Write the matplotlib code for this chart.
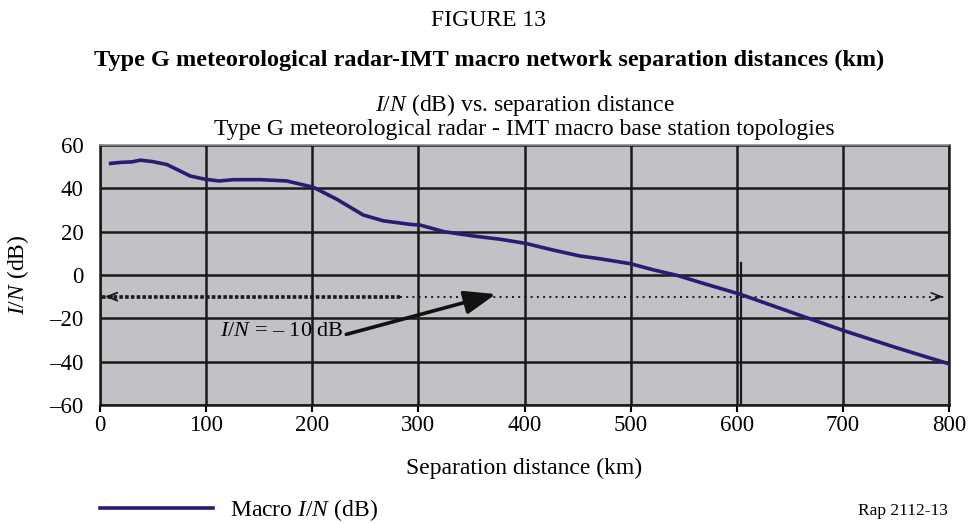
import matplotlib
matplotlib.use('Agg')
import matplotlib.pyplot as plt

plt.rcParams['font.family'] = ['Liberation Serif', 'DejaVu Serif']
plt.rcParams['mathtext.fontset'] = 'custom'
plt.rcParams['mathtext.rm'] = 'Liberation Serif'
plt.rcParams['mathtext.it'] = 'Liberation Serif:italic'

# data
distance_km = [10, 20, 30, 38, 50, 63, 85, 99, 112, 126, 151, 176, 201, 223, 248, 267,
               292, 302, 324, 352, 377, 401, 427, 452, 471, 500, 522, 544, 566, 604,
               630, 663, 701, 750, 800]
macro_in_db = [51.5, 52.0, 52.2, 53.0, 52.3, 51.0, 45.7, 44.2, 43.4, 44.0, 44.0, 43.4, 40.5,
               35.0, 27.7, 25.0, 23.4, 23.0, 20.0, 18.0, 16.5, 14.6, 11.5, 8.8, 7.5, 5.2,
               2.3, -0.2, -3.5, -9.0, -13.5, -19.2, -25.7, -33.5, -41.0]

threshold_db = -10
bold_end_km = 283
marker_km = 604
marker_top_db = 5.4

x_ticks = [0, 100, 200, 300, 400, 500, 600, 700, 800]
y_ticks = [-60, -40, -20, 0, 20, 40, 60]
y_tick_labels = ['\u201360', '\u201340', '\u201320', '0', '20', '40', '60']

line_color = '#2b1b72'
bg_color = '#c1c2c6'

fig = plt.figure(figsize=(9.68, 5.23), dpi=100)
ax = fig.add_axes([100 / 968, 1 - 405 / 523, 849 / 968, 260 / 523])
ax.set_facecolor(bg_color)

ax.set_xlim(0, 800)
ax.set_ylim(-60, 60)
ax.set_xticks(x_ticks)
ax.set_yticks(y_ticks)
ax.set_yticklabels(y_tick_labels)
ax.tick_params(axis='both', labelsize=16.5)
ax.tick_params(axis='x', length=5, width=1.5, direction='out', pad=2)
ax.tick_params(axis='y', length=0, pad=12)
ax.grid(True, color='#1a1a1a', linewidth=1.8)
ax.set_axisbelow(True)

for side in ['left', 'bottom', 'right']:
    ax.spines[side].set_color('#1a1a1a')
    ax.spines[side].set_linewidth(1.8)
ax.spines['top'].set_color('#8a8a8a')
ax.spines['top'].set_linewidth(1.2)

# -10 dB reference line (bold dotted part, then fine dotted part)
ax.plot([2, bold_end_km], [threshold_db, threshold_db], color='#1a1a1a',
        linewidth=2.6, linestyle=(0, (1, 0.6)), zorder=3)
ax.plot([bold_end_km, 796], [threshold_db, threshold_db], color='#1a1a1a',
        linewidth=1.4, linestyle=(0, (1, 2.2)), zorder=3)
ax.annotate('', xy=(2, threshold_db), xytext=(14, threshold_db),
            arrowprops=dict(arrowstyle='->,head_length=0.7,head_width=0.28',
                            color='#1a1a1a', lw=1.4), zorder=4)
ax.annotate('', xy=(797, threshold_db), xytext=(785, threshold_db),
            arrowprops=dict(arrowstyle='->,head_length=0.7,head_width=0.28',
                            color='#1a1a1a', lw=1.2), zorder=4)

# vertical marker where the curve crosses -10 dB
ax.plot([marker_km, marker_km], [marker_top_db, -60], color='#1a1a1a', linewidth=1.6, zorder=3)

# macro curve
ax.plot(distance_km, macro_in_db, color=line_color, linewidth=2.6, zorder=5,
        label='Macro $I/N$ (dB)')

# annotation arrow
ax.annotate('$I/N$ = \u2013 10 dB', xy=(373, -8.8), xytext=(113, -26),
            fontsize=16, va='center', ha='left',
            arrowprops=dict(arrowstyle='-|>,head_length=1.2,head_width=0.45',
                            color='#111111', lw=2.6, shrinkA=0, shrinkB=0,
                            relpos=(1.0, 0.3)), zorder=6)

ax.set_xlabel('Separation distance (km)', fontsize=17, labelpad=16)
ax.set_ylabel('$I/N$ (dB)', fontsize=17)
ax.yaxis.set_label_coords(-0.081, 0.5)
ax.set_title('$I/N$ (dB) vs. separation distance\n'
             'Type G meteorological radar - IMT macro base station topologies',
             fontsize=17, pad=7, linespacing=1.1)

fig.text(0.505, 1 - 21 / 523, 'FIGURE 13', fontsize=17, ha='center', va='center')
fig.text(0.505, 1 - 60 / 523,
         'Type G meteorological radar-IMT macro network separation distances (km)',
         fontsize=17.5, fontweight='bold', ha='center', va='center')
fig.text(948 / 968, 1 - 511 / 523, 'Rap 2112-13', fontsize=12.5, ha='right', va='center')

fig.legend(loc='center left', bbox_to_anchor=(100 / 968, 1 - 510 / 523), frameon=False,
           fontsize=17, handlelength=4.8, handletextpad=0.7, borderpad=0,
           borderaxespad=0)

fig.savefig('out.png', dpi=100, facecolor='white')
